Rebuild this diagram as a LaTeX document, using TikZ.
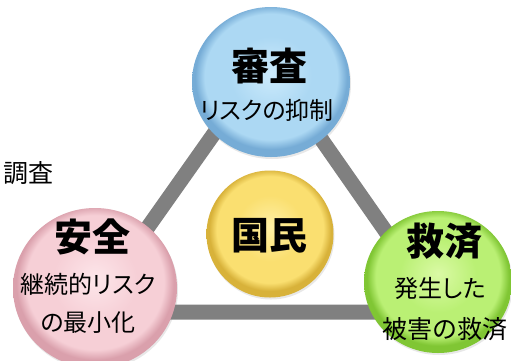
\documentclass[tikz,border=0pt]{standalone}
\usepackage{fontspec}
\setmainfont{Noto Sans CJK JP}
\newfontfamily\jpprop[RawFeature=+palt]{Noto Sans CJK JP}
\usetikzlibrary{shapes.geometric,shadows}

\definecolor{bL}{RGB}{205,235,252}\definecolor{bM}{RGB}{172,216,243}\definecolor{bD}{RGB}{118,172,214}
\definecolor{pL}{RGB}{253,230,234}\definecolor{pM}{RGB}{246,207,214}\definecolor{pD}{RGB}{218,160,172}
\definecolor{gL}{RGB}{218,250,165}\definecolor{gM}{RGB}{186,240,116}\definecolor{gD}{RGB}{128,198,52}
\definecolor{yL}{RGB}{255,240,165}\definecolor{yM}{RGB}{250,223,112}\definecolor{yD}{RGB}{216,178,58}
\definecolor{barGray}{RGB}{128,128,128}

\newcommand\mkbtnshade[4]{%
  \pgfdeclareradialshading{#1}{\pgfpoint{0bp}{3bp}}{%
    color(0bp)=(#2); color(13bp)=(#3); color(21bp)=(#3);
    color(24bp)=(#4); color(25bp)=(#4); color(50bp)=(#4)}}
\mkbtnshade{btnBlue}{bL}{bM}{bD}
\mkbtnshade{btnPink}{pL}{pM}{pD}
\mkbtnshade{btnGreen}{gL}{gM}{gD}
\mkbtnshade{btnYellow}{yL}{yM}{yD}

\tikzset{
  btn/.style={ellipse, shading=#1, inner sep=0pt,
    drop shadow={shadow xshift=1pt, shadow yshift=-2pt, opacity=.18}},
  bar/.style={draw=barGray, line width=15pt, line join=miter},
  big/.style={inner sep=0pt, font=\fontsize{38}{40}\selectfont\bfseries},
  small/.style={inner sep=0pt, font=\jpprop\fontsize{24}{26}\selectfont},
}

\begin{document}
\begin{tikzpicture}[x=1pt, y=-1pt]
  \useasboundingbox (0,0) rectangle (511,360);
  \clip (0,0) rectangle (511,360);
  \fill[white] (0,0) rectangle (511,360);

  % clipped side label
  \node[inner sep=0pt, anchor=east, font=\fontsize{25}{27}\selectfont] (chosa) at (54,173) {調査};

  % triangle
  \coordinate (tA) at (266,60);
  \coordinate (tL) at (88,312);
  \coordinate (tR) at (442,312);
  \draw[bar] (tA) -- (tL) -- (tR) -- cycle;

  % circles
  \node[btn=btnBlue, minimum width=158pt, minimum height=150pt] (shinsa) at (271,82) {};
  \node[btn=btnPink, minimum width=164pt, minimum height=160pt] (anzen) at (95,288) {};
  \node[btn=btnGreen, minimum width=148pt, minimum height=142pt] (kyusai) at (438,282) {};
  \node[btn=btnYellow, minimum width=127pt, minimum height=127pt] (kokumin) at (270,234) {};

  % texts
  \node[big] (t1) at (269,66) {審査};
  \node[small] (t1b) at (267,110) {リスクの抑制};

  \node[big] (t2) at (92,237) {安全};
  \node[small] (t2b) at (88,284) {継続的リスク};
  \node[small] (t2c) at (88,323) {の最小化};

  \node[big] (t3) at (444,241) {救済};
  \node[small] (t3b) at (440,288) {発生した};
  \node[small, font=\jpprop\fontsize{25}{27}\selectfont] (t3c) at (445,329) {被害の救済};

  \node[big] (t4) at (269,236) {国民};
\end{tikzpicture}
\end{document}
